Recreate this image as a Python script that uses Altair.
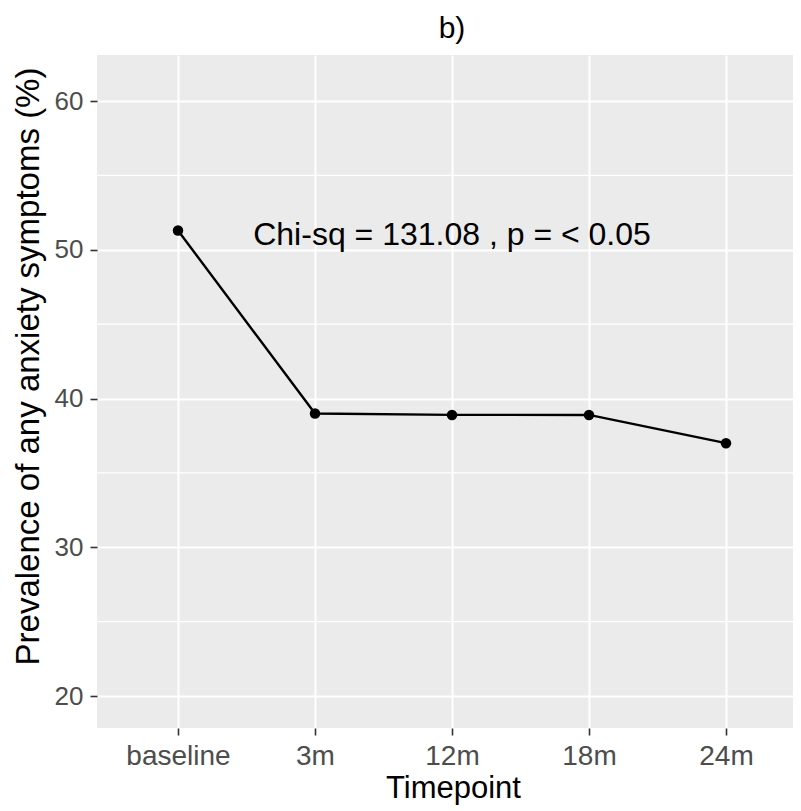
import altair as alt
import pandas as pd

timepoints = ["baseline", "3m", "12m", "18m", "24m"]
prevalence = [51.3, 39.0, 38.9, 38.9, 37.0]
major_ticks = [20, 30, 40, 50, 60]
minor_ticks = [25, 35, 45, 55]
annot_text = ["Chi-sq = 131.08 , p = < 0.05"]
annot_x = ["12m"]
annot_y = [51]

FONT = "Liberation Sans"

df = pd.DataFrame({"Timepoint": timepoints, "value": prevalence})
df_minor = pd.DataFrame({"value": minor_ticks})
df_annot = pd.DataFrame({"Timepoint": annot_x, "value": annot_y, "label": annot_text})

x_scale = alt.Scale(type="point", domain=timepoints, padding=0.54015, align=0.5473)
y_scale = alt.Scale(domain=[17.85, 63.1], nice=False, zero=False)

x_axis = alt.Axis(
    title="Timepoint", grid=True, gridColor="white", gridWidth=2,
    domain=False, ticks=True, tickSize=7, tickColor="#333333", tickWidth=1.6,
    labelPadding=7, labelFontSize=28, labelColor="#4D4D4D", labelFont=FONT,
    labelAngle=0, titleFont=FONT, titleFontSize=31, titleFontWeight="normal",
    titleColor="black", titleBaseline="alphabetic", titleY=69, titleX=356,
)
y_axis = alt.Axis(
    title="Prevalence of any anxiety symptoms (%)", values=major_ticks,
    grid=True, gridColor="white", gridWidth=2, domain=False,
    ticks=True, tickSize=7, tickColor="#333333", tickWidth=1.6,
    labelPadding=7, labelFontSize=26, labelColor="#4D4D4D", labelFont=FONT,
    titleFont=FONT, titleFontSize=33, titleFontWeight="normal",
    titleColor="black", titleBaseline="alphabetic", titleX=-59, titleY=311,
)

rules = alt.Chart(df_minor).mark_rule(color="white", strokeWidth=1.2).encode(
    y=alt.Y("value:Q", scale=y_scale, axis=y_axis)
)

line = alt.Chart(df).mark_line(color="black", strokeWidth=2.4).encode(
    x=alt.X("Timepoint:N", scale=x_scale, axis=x_axis, sort=timepoints),
    y=alt.Y("value:Q", scale=y_scale, axis=y_axis),
)
points = alt.Chart(df).mark_circle(color="black", size=110, opacity=1).encode(
    x=alt.X("Timepoint:N", scale=x_scale, axis=x_axis, sort=timepoints),
    y=alt.Y("value:Q", scale=y_scale, axis=y_axis),
)
annot = alt.Chart(df_annot).mark_text(
    font=FONT, fontSize=32, color="black", baseline="middle", align="center"
).encode(
    x=alt.X("Timepoint:N", scale=x_scale, axis=x_axis, sort=timepoints),
    y=alt.Y("value:Q", scale=y_scale, axis=y_axis),
    text="label:N",
)

chart = alt.layer(rules, line, points, annot).properties(
    width=696, height=673,
    title=alt.TitleParams("b)", font=FONT, fontSize=30, fontWeight="normal",
                          color="black", anchor="middle", dx=7, offset=11),
    autosize=alt.AutoSizeParams(type="none"),
    padding={"left": 89, "top": 47, "right": 0, "bottom": 80},
).configure_view(fill="#EBEBEB", stroke=None)

chart.save("out.html", embed_options={"renderer": "svg", "actions": False})
